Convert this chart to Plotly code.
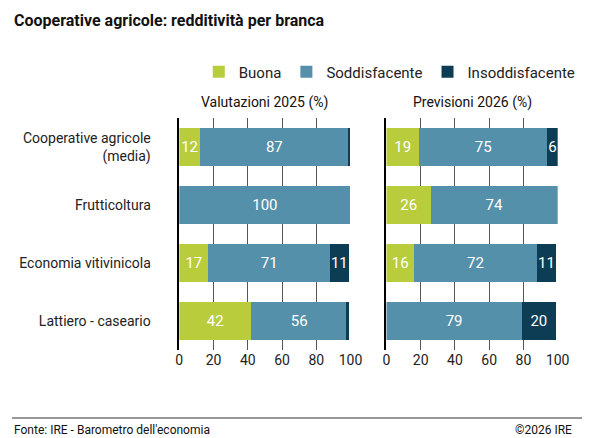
import plotly.graph_objects as go
from plotly.subplots import make_subplots

categories = ["Cooperative agricole<br>(media)", "Frutticoltura", "Economia vitivinicola", "Lattiero - caseario"]
series = ["Buona", "Soddisfacente", "Insoddisfacente"]
colors = ["#b8cc3c", "#5590aa", "#0d3d55"]
val_2025 = {"Buona": [12, 0, 17, 42], "Soddisfacente": [87, 100, 71, 56], "Insoddisfacente": [1, 0, 11, 1]}
val_2026 = {"Buona": [19, 26, 16, 0], "Soddisfacente": [75, 74, 72, 79], "Insoddisfacente": [6, 0, 11, 20]}
tick_vals = [0, 20, 40, 60, 80, 100]
font = "Roboto"

W, H = 586, 430
def fx(x): return (x - 8) / W
def fy(y): return 1 - (y - 8) / H

fig = make_subplots(rows=1, cols=2)
for ci, (vals, col) in enumerate([(val_2025, 1), (val_2026, 2)]):
    for s, c in zip(series, colors):
        v = vals[s]
        fig.add_trace(go.Bar(
            y=categories, x=v, orientation="h", name=s, marker=dict(color=c, line_width=0),
            text=[str(x) if x >= 5 else "" for x in v], textposition="inside", constraintext="none",
            insidetextanchor="middle", textfont=dict(color="white", size=15, family=font),
            showlegend=(ci == 0), hoverinfo="skip"), row=1, col=col)

ax = dict(range=[0, 100], tickvals=tick_vals, showgrid=True, gridcolor="#555555", gridwidth=1,
          zeroline=False, tickfont=dict(size=14, color="#222", family=font), ticks="")
fig.update_xaxes(**ax)
fig.update_layout(
    xaxis=dict(domain=[fx(180), fx(356)]), xaxis2=dict(domain=[fx(393), fx(569)]),
    yaxis=dict(domain=[fy(350), fy(118)], autorange="reversed", showline=True, linecolor="black", linewidth=1.5,
               tickfont=dict(size=14, color="#222", family=font), ticks="", ticklabelstandoff=24),
    yaxis2=dict(domain=[fy(350), fy(118)], autorange="reversed", showline=True, linecolor="black", linewidth=1.5,
                showticklabels=False),
    barmode="stack", bargap=0.35, width=W, height=H,
    uniformtext=dict(minsize=15, mode="show"),
    margin=dict(l=0, r=0, t=0, b=0), plot_bgcolor="white", paper_bgcolor="white",
    legend=dict(orientation="h", x=fx(200), y=fy(72), xanchor="left", yanchor="middle",
                font=dict(size=15, color="#222", family=font), traceorder="normal"),
    font=dict(family=font),
)
anns = [
    dict(text="<b>Cooperative agricole: redditività per branca</b>", x=fx(8), y=fy(20), xanchor="left", font_size=16),
    dict(text="Valutazioni 2025 (%)", x=fx(268), y=fy(102), xanchor="center", font_size=14),
    dict(text="Previsioni 2026 (%)", x=fx(481), y=fy(102), xanchor="center", font_size=14),
    dict(text="Fonte: IRE - Barometro dell'economia", x=fx(8), y=fy(430), xanchor="left", font_size=12),
    dict(text="©2026 IRE", x=fx(586), y=fy(430), xanchor="right", font_size=12),
]
for a in anns:
    fs = a.pop("font_size")
    fig.add_annotation(xref="paper", yref="paper", yanchor="middle", showarrow=False,
                       font=dict(size=fs, color="#111", family=font), **a)
fig.add_shape(type="line", xref="paper", yref="paper", x0=0, x1=1, y0=fy(418), y1=fy(418), line=dict(color="#333", width=1))
fig.write_html("out.html")
